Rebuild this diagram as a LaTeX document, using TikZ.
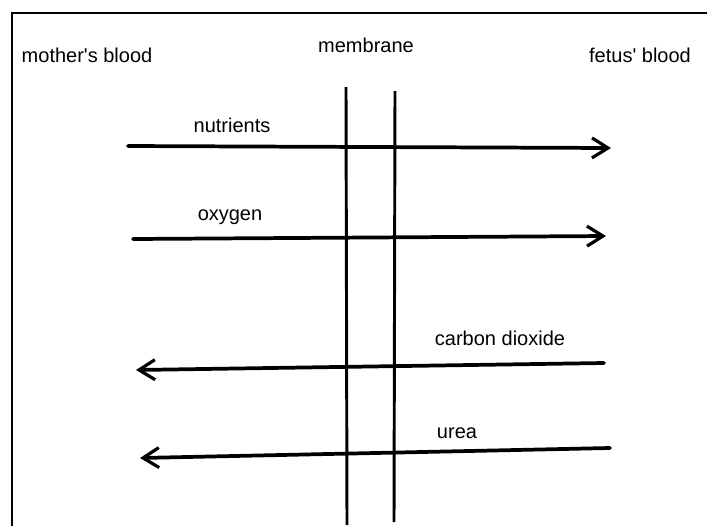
\documentclass[tikz,border=0pt]{standalone}
\usepackage{fontspec}
\setmainfont{Liberation Sans}
\usetikzlibrary{arrows.meta}
\begin{document}
\begin{tikzpicture}[x=0.75pt,y=-0.75pt,
  lbl/.style={inner sep=0pt,font=\fontsize{15}{18}\selectfont,text=black},
  flow/.style={line width=2.8pt,line cap=round,-{Straight Barb[length=12pt,width=15pt,line width=2.4pt]}},
  wall/.style={line width=2.2pt},
  frame/.style={line width=1pt}]
\useasboundingbox (0,0) rectangle (707,526);
% frame
\coordinate (f1) at (12,526);
\coordinate (f2) at (12,13);
\coordinate (f3) at (707,13);
\draw[frame] (f1) -- (f2) -- (f3);
% headings
\node[lbl] (mother) at (87,55) {mother\textquotesingle s blood};
\node[lbl] (fetus) at (640,55) {fetus\textquotesingle\ blood};
\node[lbl] (membrane) at (366,45) {membrane};
% membrane walls
\coordinate (w1t) at (346,87);
\coordinate (w1b) at (347,525);
\coordinate (w2t) at (395,91);
\coordinate (w2b) at (394,522);
\draw[wall] (w1t) -- (w1b);
\draw[wall] (w2t) -- (w2b);
% flows
\coordinate (n1) at (128,146);
\coordinate (n2) at (611,148);
\draw[flow] (n1) -- (n2);
\node[lbl] (nutr) at (232,125) {nutrients};
\coordinate (o1) at (133,239);
\coordinate (o2) at (606,236);
\draw[flow] (o1) -- (o2);
\node[lbl] (oxy) at (230,217) {oxygen};
\coordinate (c1) at (604,363);
\coordinate (c2) at (136,370);
\draw[flow] (c1) -- (c2);
\node[lbl] (co2) at (500,338) {carbon dioxide};
\coordinate (u1) at (610,448);
\coordinate (u2) at (140,458);
\draw[flow] (u1) -- (u2);
\node[lbl] (urea) at (457,433) {urea};
\end{tikzpicture}
\end{document}
